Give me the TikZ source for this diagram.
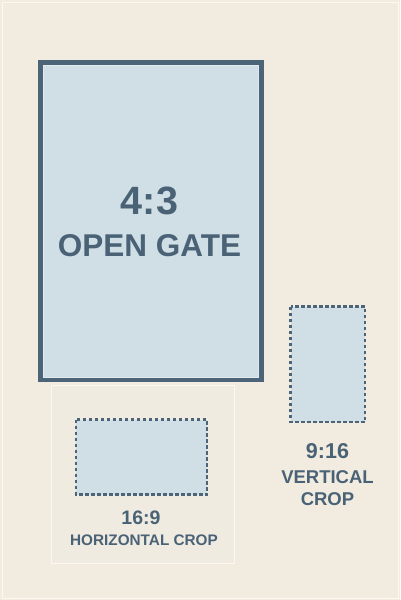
\documentclass[tikz,border=0pt]{standalone}
\usepackage{fontspec}
\setmainfont{Liberation Sans}
\definecolor{bg}{HTML}{F2ECE0}
\definecolor{edge}{HTML}{FBF8F1}
\definecolor{panel}{HTML}{F0EBE1}
\definecolor{ink}{HTML}{4A6276}
\definecolor{frame}{HTML}{4B6478}
\definecolor{sky}{HTML}{D0DFE6}
\definecolor{skyhl}{HTML}{E0EAEF}
\tikzset{
  gate/.style={draw=frame, fill=sky, line width=4.5pt},
  cropbox/.style={draw=frame, fill=sky, line width=2.2pt, dash pattern=on 3.5pt off 2.5pt},
  lbl/.style={text=ink, anchor=base, inner sep=0pt, font=\bfseries},
}
\newcommand{\fs}[1]{\fontsize{#1}{#1}\selectfont\bfseries}
\begin{document}
\begin{tikzpicture}[x=1pt, y=-1pt]
\useasboundingbox (0,0) rectangle (400,600);
\fill[bg] (0,0) rectangle (400,600);
\draw[edge, line width=1pt] (2,2) rectangle (398,598);
% open gate
\draw[gate] (40.5,62.5) rectangle (261.5,380);
\draw[skyhl, line width=0.8pt] (43.4,65.4) rectangle (258.6,377.1);
\node[lbl, font=\fs{39.5}] (ratioA) at (149.5,214) {4:3};
\node[lbl, font=\fs{31.5}] (nameA) at (149.5,256.5) {OPEN GATE};
% horizontal crop panel
\draw[edge, fill=panel, line width=1pt] (51,385) rectangle (234,563);
\draw[cropbox] (76,419.5) rectangle (207,494.5);
\node[lbl, font=\fs{19.5}] (ratioH) at (141,524) {16:9};
\node[lbl, font=\fs{15.3}] (nameH) at (144,545) {HORIZONTAL CROP};
% vertical crop
\draw[cropbox] (290.5,306.5) rectangle (365,422);
\node[lbl, font=\fs{21.5}] (ratioV) at (327.5,458) {9:16};
\node[lbl, font=\fs{18.5}] (nameV1) at (327.5,483) {VERTICAL};
\node[lbl, font=\fs{18.5}] (nameV2) at (327.5,505) {CROP};
\end{tikzpicture}
\end{document}
